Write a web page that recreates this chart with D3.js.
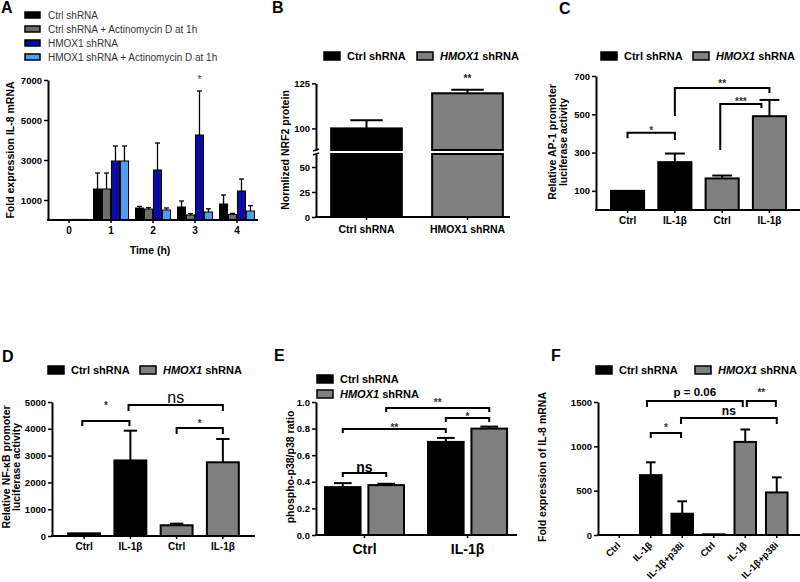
<!DOCTYPE html>
<html><head><meta charset="utf-8">
<script src="https://cdn.jsdelivr.net/npm/d3@7"></script>
<style>
body{margin:0;background:#fff;}
svg{display:block;}
</style></head><body>
<svg id="c" width="800" height="582"></svg>
<script>
// ---------------- DATA ----------------
// Panel A
const aTimes = ["0","1","2","3","4"];
const aSeries = ["Ctrl shRNA","Ctrl shRNA + Actinomycin D at 1h","HMOX1 shRNA","HMOX1 shRNA + Actinomycin D at 1h"];
const aCtrl       = [5, 1550, 600, 650, 800];
const aCtrlErr    = [0, 800, 80, 300, 450];
const aCtrlAct    = [5, 1550, 550, 250, 280];
const aCtrlActErr = [0, 800, 70, 70, 50];
const aHmox       = [30, 2950, 2500, 4250, 1450];
const aHmoxErr    = [0, 750, 1350, 2200, 600];
const aHmoxAct    = [30, 2950, 500, 400, 450];
const aHmoxActErr = [0, 750, 100, 160, 270];
const aYTicks = [1000, 3000, 5000, 7000];
const aStar = {series: 2, time: "3", value: 6850, label: "*"};

// Panel B (broken axis)
const bCats = ["Ctrl shRNA", "HMOX1 shRNA"];
const bVals = [100, 119.5];
const bErr  = [4.5, 2];
const bLowTicks = [0, 25, 50];
const bUpTicks = [100, 125];
const bLowDomain = [0, 63];
const bUpDomain = [88, 125];
const bStar = {cat: 1, value: 125.8, label: "**"};

// Panel C
const cLabels = ["Ctrl", "IL-1β", "Ctrl", "IL-1β"];
const cGroup  = [0, 0, 1, 1];
const cVals   = [100, 250, 165, 490];
const cErr    = [0, 45, 15, 85];
const cYTicks = [100, 300, 500, 700];
// brackets: a,b category indices, aOff/bOff fractional shifts, y = bracket value, la/lb = leg ends, ly = label baseline value
const cBrackets = [
  {a:0, b:1, aOff:0, bOff:0, y:403, la:375, lb:366, label:"*", ly:397},
  {a:1, b:3, aOff:0, bOff:0, y:637, la:491, lb:611, label:"**", ly:640},
  {a:2, b:3, aOff:-0.04, bOff:-0.17, y:554, la:313, lb:533, label:"***", ly:546}
];

// Panel D
const dLabels = ["Ctrl", "IL-1β", "Ctrl", "IL-1β"];
const dGroup  = [0, 0, 1, 1];
const dVals   = [100, 2820, 400, 2750];
const dErr    = [0, 1110, 60, 870];
const dYTicks = [0, 1000, 2000, 3000, 4000, 5000];
const dBrackets = [
  {a:0, b:1, aOff:-0.04, bOff:-0.02, y:4291, la:4104, lb:4104, label:"*", ly:4757, kind:"star"},
  {a:1, b:3, aOff:-0.04, bOff:0, y:4888, la:4664, lb:4664, label:"ns", ly:4963, kind:"ns"},
  {a:2, b:3, aOff:0, bOff:0, y:4030, la:3806, lb:3806, label:"*", ly:4067, kind:"star"}
];

// Panel E
const eGroups = ["Ctrl", "IL-1β"];
const eSeries = ["Ctrl shRNA", "HMOX1 shRNA"];
const eCtrl    = [0.36, 0.70];
const eCtrlErr = [0.03, 0.03];
const eHmox    = [0.375, 0.80];
const eHmoxErr = [0.01, 0.015];
const eYTicks = [0, 0.2, 0.4, 0.6, 0.8, 1.0];
// bracket endpoints: [group, series]
const eBrackets = [
  {a:[0,0], b:[0,1], y:0.466, la:0.436, lb:0.436, label:"ns", ly:0.477, kind:"ns"},
  {a:[0,0], b:[1,0], y:0.797, la:0.767, lb:0.767, label:"**", ly:0.782, kind:"star"},
  {a:[0,1], b:[1,1], y:0.955, la:0.925, lb:0.925, label:"**", ly:0.97, kind:"star"},
  {a:[1,0], b:[1,1], y:0.88, la:0.85, lb:0.85, label:"*", ly:0.865, kind:"star"}
];

// Panel F
const fLabels = ["Ctrl", "IL-1β", "IL-1β+p38i", "Ctrl", "IL-1β", "IL-1β+p38i"];
const fGroup  = [0, 0, 0, 1, 1, 1];
const fVals   = [0, 675, 240, 8, 1050, 480];
const fErr    = [0, 145, 140, 0, 140, 170];
const fYTicks = [0, 500, 1000, 1500];
const fBrackets = [
  {a:1, b:4, aOff:-0.12, bOff:-0.08, y:1511, la:1444, lb:1444, label:"p = 0.06", ly:1568, kind:"p"},
  {a:4, b:5, aOff:0.05, bOff:-0.03, y:1511, la:1444, lb:1444, label:"**", ly:1568, kind:"star"},
  {a:2, b:5, aOff:-0.04, bOff:0, y:1319, la:1252, lb:1252, label:"ns", ly:1353, kind:"nsb"},
  {a:1, b:2, aOff:0, bOff:-0.04, y:1150, la:1094, lb:1094, label:"*", ly:1178, kind:"star"}
];

// ---------------- DRAWING ----------------
const FONT = '"Liberation Sans", Arial, Helvetica, sans-serif';
const BLACK = "#000", GREY = "#808080";
const svg = d3.select("#c").attr("font-family", FONT);

function styleAxis(g, fs) {
  g.attr("font-family", FONT).attr("font-size", fs).attr("font-weight", "bold");
  g.selectAll(".domain").attr("stroke", "#000").attr("stroke-width", 2);
  g.selectAll(".tick line").attr("stroke", "#000").attr("stroke-width", 1.5);
  g.selectAll(".tick text").attr("fill", "#000");
}
function leftAxis(scale, x, ticks, fmt, outer) {
  const ax = d3.axisLeft(scale).tickValues(ticks).tickSize(4).tickSizeOuter(outer || 0).tickPadding(2)
    .tickFormat(fmt || d3.format("d"));
  const g = svg.append("g").attr("transform", `translate(${x},0)`).call(ax);
  styleAxis(g, 9.5);
  return g;
}
function bottomAxis(scale, y, x0, x1, labels, fs, pad) {
  const ax = d3.axisBottom(scale).tickSize(3).tickSizeOuter(0).tickPadding(pad).tickFormat(d => labels[d] !== undefined ? labels[d] : d);
  const g = svg.append("g").attr("transform", `translate(0,${y})`).call(ax);
  styleAxis(g, fs);
  g.select(".domain").remove();
  g.append("line").attr("x1", x0).attr("x2", x1).attr("stroke", "#000").attr("stroke-width", 2);
  return g;
}
function yLabel(lines, x, y, fs, lh) {
  const t = svg.append("text").attr("transform", `translate(${x},${y}) rotate(-90)`)
    .attr("text-anchor", "middle").attr("font-weight", "bold").attr("font-size", fs);
  lines.forEach((l, i) => t.append("tspan").attr("x", 0).attr("dy", i === 0 ? 0 : lh).text(l));
}
function panelLetter(l, x, y) {
  svg.append("text").attr("x", x).attr("y", y).attr("font-size", 16).attr("font-weight", "bold").text(l);
}
function errBar(x, y0, y1, cap, sw) {
  svg.append("line").attr("x1", x).attr("x2", x).attr("y1", y0).attr("y2", y1).attr("stroke", "#000").attr("stroke-width", sw);
  svg.append("line").attr("x1", x - cap / 2).attr("x2", x + cap / 2).attr("y1", y1).attr("y2", y1).attr("stroke", "#000").attr("stroke-width", sw);
}
function bracket(x1, x2, yS, b, fsMap) {
  svg.append("path").attr("d", `M${x1},${yS(b.la)}V${yS(b.y)}H${x2}V${yS(b.lb)}`)
    .attr("fill", "none").attr("stroke", "#000").attr("stroke-width", 2);
  const st = fsMap[b.kind || "star"];
  svg.append("text").attr("x", (x1 + x2) / 2).attr("y", yS(b.ly)).attr("text-anchor", "middle")
    .attr("font-size", st[0]).attr("font-weight", st[1]).attr("fill", st[2] || "#000").text(b.label);
}
function legendItem(x, y, fill, parts, fs) {
  svg.append("rect").attr("x", x).attr("y", y - 4).attr("width", 16).attr("height", 8)
    .attr("fill", fill).attr("stroke", "#000").attr("stroke-width", 1.5);
  const t = svg.append("text").attr("x", x + 23).attr("y", y + 4).attr("font-size", fs || 11).attr("font-weight", "bold");
  parts.forEach(p => t.append("tspan").attr("font-style", p[1] ? "italic" : "normal").text(p[0]));
}
const ctrlParts = [["Ctrl shRNA", false]];
const hmoxParts = [["HMOX1", true], [" shRNA", false]];

// ======== Panel A ========
panelLetter("A", 1, 13);
{
  const colors = ["#000000", "#6e6e6e", "#0b0ba3", "#4ea0ee"];
  const vals = [aCtrl, aCtrlAct, aHmox, aHmoxAct];
  const errs = [aCtrlErr, aCtrlActErr, aHmoxErr, aHmoxActErr];
  const x = d3.scaleBand().domain(aTimes).range([48, 258]);
  const y = d3.scaleLinear().domain([0, 7000]).range([220, 80]);
  const inner = d3.scaleBand().domain(d3.range(4)).range([-17.5, 17.5]).paddingInner(0.1);
  // legend
  aSeries.forEach((s, i) => {
    const ly = 15 + i * 14;
    svg.append("rect").attr("x", 25).attr("y", ly - 3).attr("width", 15).attr("height", 6)
      .attr("fill", colors[i]).attr("stroke", "#000").attr("stroke-width", 1.5);
    svg.append("text").attr("x", 48).attr("y", ly + 3.5).attr("font-size", 10).attr("fill", "#333").text(s);
  });
  vals.forEach((arr, s) => {
    arr.forEach((v, i) => {
      const bx = x(aTimes[i]) + x.bandwidth() / 2 + inner(s);
      svg.append("rect").attr("x", bx).attr("y", y(v)).attr("width", inner.bandwidth()).attr("height", y(0) - y(v))
        .attr("fill", colors[s]).attr("stroke", "#000").attr("stroke-width", 1);
      if (errs[s][i] > 0) errBar(bx + inner.bandwidth() / 2, y(v), y(v + errs[s][i]), 5, 1.3);
    });
  });
  leftAxis(y, 48, aYTicks);
  bottomAxis(x, 220, 47, 258, {}, 10, 4);
  svg.append("text").attr("x", x(aStar.time) + x.bandwidth() / 2 + inner(aStar.series) + inner.bandwidth() / 2)
    .attr("y", y(aStar.value)).attr("text-anchor", "middle").attr("font-size", 10).attr("fill", "#333").text(aStar.label);
  svg.append("text").attr("x", 150).attr("y", 254).attr("text-anchor", "middle").attr("font-size", 10.5).attr("font-weight", "bold").text("Time (h)");
  yLabel(["Fold expression IL-8 mRNA"], 14, 150, 10.5);
}

// ======== Panel B ========
panelLetter("B", 272, 13);
{
  const x = d3.scaleBand().domain(d3.range(bCats.length)).range([316, 518]).paddingInner(0.3).paddingOuter(0.15);
  const yLow = d3.scaleLinear().domain(bLowDomain).range([217, 154]);
  const yUp = d3.scaleLinear().domain(bUpDomain).range([150, 83.4]);
  legendItem(324, 56, BLACK, ctrlParts);
  legendItem(417, 56, GREY, hmoxParts);
  bVals.forEach((v, i) => {
    const fill = i === 0 ? BLACK : GREY;
    svg.append("rect").attr("x", x(i)).attr("y", yLow(bLowDomain[1])).attr("width", x.bandwidth())
      .attr("height", yLow(0) - yLow(bLowDomain[1])).attr("fill", fill).attr("stroke", "#000").attr("stroke-width", 2);
    svg.append("rect").attr("x", x(i)).attr("y", yUp(v)).attr("width", x.bandwidth())
      .attr("height", yUp(bUpDomain[0]) - yUp(v)).attr("fill", fill).attr("stroke", "#000").attr("stroke-width", 2);
    errBar(x(i) + x.bandwidth() / 2, yUp(v), yUp(v + bErr[i]), x.bandwidth() * 0.46, 2);
  });
  leftAxis(yLow, 316, bLowTicks, null, 0);
  leftAxis(yUp, 316, bUpTicks, null, 0);
  // break marks
  [yLow(bLowDomain[1]), yUp(bUpDomain[0])].forEach(yy => {
    svg.append("line").attr("x1", 313).attr("x2", 319).attr("y1", yy + 1).attr("y2", yy - 1).attr("stroke", "#000").attr("stroke-width", 1.5);
  });
  bottomAxis(x, 217, 315, 510, bCats, 10.5, 6);
  svg.append("text").attr("x", x(bStar.cat) + x.bandwidth() / 2).attr("y", yUp(bStar.value)).attr("text-anchor", "middle")
    .attr("font-size", 10).attr("font-weight", "bold").attr("fill", "#222").text(bStar.label);
  yLabel(["Normlized NRF2 protein"], 289, 150, 10.5);
}

// ======== Panel C ========
panelLetter("C", 559, 14);
{
  const x = d3.scaleBand().domain(d3.range(cVals.length)).range([596, 801]).paddingInner(0.3).paddingOuter(0.317);
  const y = d3.scaleLinear().domain([0, 700]).range([210, 76]);
  legendItem(601, 56, BLACK, ctrlParts);
  legendItem(693, 56, GREY, hmoxParts);
  cVals.forEach((v, i) => {
    const fill = cGroup[i] === 0 ? BLACK : GREY;
    svg.append("rect").attr("x", x(i)).attr("y", y(v)).attr("width", x.bandwidth()).attr("height", y(0) - y(v))
      .attr("fill", fill).attr("stroke", "#000").attr("stroke-width", 2);
    if (cErr[i] > 0) errBar(x(i) + x.bandwidth() / 2, y(v), y(v + cErr[i]), x.bandwidth() * 0.6, 2);
  });
  leftAxis(y, 596, cYTicks);
  bottomAxis(x, 210, 595, 800, cLabels, 10, 4);
  const fs = {star: [10, "bold", "#333"]};
  cBrackets.forEach(b => {
    const step = x.step();
    bracket(x(b.a) + x.bandwidth() / 2 + b.aOff * step, x(b.b) + x.bandwidth() / 2 + b.bOff * step, y, b, fs);
  });
  yLabel(["Relative AP-1 promoter", "luciferase activity"], 556, 142, 10.5, "1em");
}

// ======== Panel D ========
panelLetter("D", 2, 362);
{
  const x = d3.scaleBand().domain(d3.range(dVals.length)).range([52, 255]).paddingInner(0.31).paddingOuter(0.35);
  const y = d3.scaleLinear().domain([0, 5000]).range([536, 402]);
  legendItem(48, 370, BLACK, ctrlParts);
  legendItem(140, 370, GREY, hmoxParts);
  dVals.forEach((v, i) => {
    const fill = dGroup[i] === 0 ? BLACK : GREY;
    svg.append("rect").attr("x", x(i)).attr("y", y(v)).attr("width", x.bandwidth()).attr("height", y(0) - y(v))
      .attr("fill", fill).attr("stroke", "#000").attr("stroke-width", 2);
    if (dErr[i] > 0) errBar(x(i) + x.bandwidth() / 2, y(v), y(v + dErr[i]), x.bandwidth() * 0.42, 2);
  });
  leftAxis(y, 52, dYTicks);
  bottomAxis(x, 536, 51, 255, dLabels, 10, 4);
  const fs = {star: [10, "bold", "#333"], ns: [16, "normal", "#000"]};
  dBrackets.forEach(b => {
    const step = x.step();
    bracket(x(b.a) + x.bandwidth() / 2 + b.aOff * step, x(b.b) + x.bandwidth() / 2 + b.bOff * step, y, b, fs);
  });
  yLabel(["Relative NF-κB promoter", "luciferase activity"], 10, 467, 10.5, "0.95em");
}

// ======== Panel E ========
panelLetter("E", 274, 361);
{
  const x0 = d3.scaleBand().domain(d3.range(eGroups.length)).range([316, 516]).paddingInner(0.233).paddingOuter(0.087);
  const x1 = d3.scaleBand().domain(d3.range(eSeries.length)).range([0, x0.bandwidth()]).paddingInner(0.18);
  const y = d3.scaleLinear().domain([0, 1]).range([535, 402]);
  legendItem(317, 379, BLACK, ctrlParts);
  legendItem(317, 394, GREY, hmoxParts);
  const vals = [eCtrl, eHmox], errs = [eCtrlErr, eHmoxErr];
  vals.forEach((arr, s) => arr.forEach((v, g) => {
    const bx = x0(g) + x1(s);
    svg.append("rect").attr("x", bx).attr("y", y(v)).attr("width", x1.bandwidth()).attr("height", y(0) - y(v))
      .attr("fill", s === 0 ? BLACK : GREY).attr("stroke", "#000").attr("stroke-width", 2);
    errBar(bx + x1.bandwidth() / 2, y(v), y(v + errs[s][g]), x1.bandwidth() * 0.5, 2);
  }));
  leftAxis(y, 316, eYTicks, d3.format(".1f"));
  bottomAxis(x0, 535, 315, 517, eGroups, 14, 6);
  const fs = {star: [10, "bold", "#333"], ns: [14, "bold", "#000"]};
  const cx = p => x0(p[0]) + x1(p[1]) + x1.bandwidth() / 2;
  eBrackets.forEach(b => bracket(cx(b.a), cx(b.b), y, b, fs));
  yLabel(["phospho-p38/p38 ratio"], 294, 467, 10.5);
}

// ======== Panel F ========
panelLetter("F", 551, 361);
{
  const x = d3.scaleBand().domain(d3.range(fVals.length)).range([598, 798]).paddingInner(0.317).paddingOuter(0.333);
  const y = d3.scaleLinear().domain([0, 1500]).range([535, 402]);
  legendItem(596, 370, BLACK, ctrlParts);
  legendItem(695, 370, GREY, hmoxParts);
  fVals.forEach((v, i) => {
    const fill = fGroup[i] === 0 ? BLACK : GREY;
    if (v > 0) svg.append("rect").attr("x", x(i)).attr("y", y(v)).attr("width", x.bandwidth()).attr("height", y(0) - y(v))
      .attr("fill", fill).attr("stroke", "#000").attr("stroke-width", 2);
    if (fErr[i] > 0) errBar(x(i) + x.bandwidth() / 2, y(v), y(v + fErr[i]), x.bandwidth() * 0.45, 2);
  });
  leftAxis(y, 598, fYTicks);
  const g = bottomAxis(x, 535, 597, 800, fLabels, 9.5, 4);
  g.selectAll(".tick text").attr("text-anchor", "end").attr("dy", null)
    .attr("transform", "translate(2,11) rotate(-45)").attr("y", 0).attr("x", 0);
  const fs = {star: [10, "bold", "#333"], p: [11.5, "bold", "#000"], nsb: [12, "bold", "#000"]};
  fBrackets.forEach(b => {
    const step = x.step();
    bracket(x(b.a) + x.bandwidth() / 2 + b.aOff * step, x(b.b) + x.bandwidth() / 2 + b.bOff * step, y, b, fs);
  });
  yLabel(["Fold expression of IL-8 mRNA"], 546, 467, 10.5);
}
</script>
</body></html>
